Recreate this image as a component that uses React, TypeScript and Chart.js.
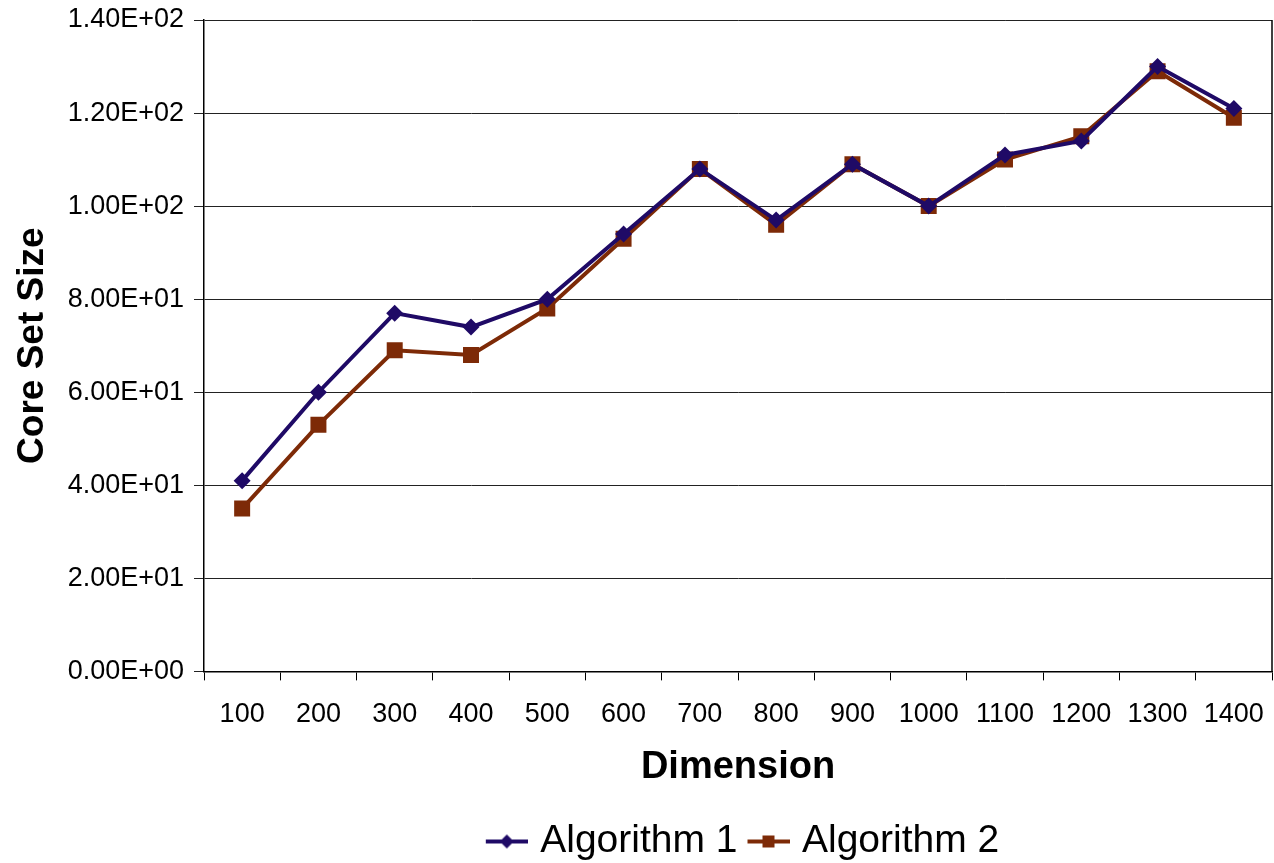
import React, { useEffect, useRef } from "react";
import { Chart, registerables } from "chart.js";

Chart.register(...registerables);

const categories = ["100", "200", "300", "400", "500", "600", "700", "800", "900", "1000", "1100", "1200", "1300", "1400"];
const algorithm1 = [41, 60, 77, 74, 80, 94, 108, 97, 109, 100, 111, 114, 130, 121];
const algorithm2 = [35, 53, 69, 68, 78, 93, 108, 96, 109, 100, 110, 115, 129, 119];
const seriesNames = ["Algorithm 1", "Algorithm 2"];
const yMin = 0;
const yMax = 140;
const yStep = 20;

const COLOR1 = "#1f0a66";
const COLOR2 = "#7d2a07";
const FONT = "'Liberation Sans', Arial, Helvetica, sans-serif";

const LEGEND_PADDING = 1;
const LEGEND_BOX = 45 - LEGEND_PADDING;

function formatSci(v: number): string {
  const [m, e] = v.toExponential(2).split("e");
  const sign = e[0] === "-" ? "-" : "+";
  const digits = e.replace(/^[+-]/, "").padStart(2, "0");
  return `${m}E${sign}${digits}`;
}

function makeLegendIcon(color: string, shape: "diamond" | "square"): HTMLCanvasElement {
  const c = document.createElement("canvas");
  const w = LEGEND_BOX + 14;
  c.width = w;
  c.height = 16;
  const x0 = w - 42;
  const ctx = c.getContext("2d")!;
  ctx.strokeStyle = color;
  ctx.lineWidth = 4;
  ctx.beginPath();
  ctx.moveTo(x0, 8);
  ctx.lineTo(x0 + 42, 8);
  ctx.stroke();
  ctx.fillStyle = color;
  ctx.beginPath();
  if (shape === "diamond") {
    ctx.moveTo(x0 + 21, 1);
    ctx.lineTo(x0 + 28, 8);
    ctx.lineTo(x0 + 21, 15);
    ctx.lineTo(x0 + 14, 8);
    ctx.closePath();
  } else {
    ctx.rect(x0 + 15, 2, 12, 12);
  }
  ctx.fill();
  return c;
}

const rightBorder = {
  id: "rightBorder",
  afterDraw(chart: any) {
    const { ctx, chartArea } = chart;
    ctx.save();
    ctx.strokeStyle = "#000";
    ctx.lineWidth = 1.5;
    ctx.beginPath();
    ctx.moveTo(chartArea.right, chartArea.top);
    ctx.lineTo(chartArea.right, chartArea.bottom);
    ctx.stroke();
    ctx.restore();
  },
};

export default function App() {
  const ref = useRef<HTMLCanvasElement | null>(null);

  useEffect(() => {
    if (!ref.current) return;
    const icons = [makeLegendIcon(COLOR1, "diamond"), makeLegendIcon(COLOR2, "square")];
    const chart = new Chart(ref.current, {
      type: "line",
      data: {
        labels: categories,
        datasets: [
          {
            label: seriesNames[0],
            data: algorithm1,
            borderColor: COLOR1,
            backgroundColor: COLOR1,
            borderWidth: 4,
            pointStyle: "rectRot",
            pointRadius: 8.5,
            pointBorderWidth: 0,
            tension: 0,
          },
          {
            label: seriesNames[1],
            data: algorithm2,
            borderColor: COLOR2,
            backgroundColor: COLOR2,
            borderWidth: 4,
            pointStyle: "rect",
            pointRadius: 11.3,
            pointBorderWidth: 0,
            tension: 0,
          },
        ],
      },
      options: {
        animation: false,
        responsive: true,
        maintainAspectRatio: false,
        layout: { autoPadding: false, padding: { top: 20, right: 2, left: 0, bottom: -8 } },
        font: { family: FONT },
        scales: {
          x: {
            offset: true,
            grid: {
              offset: true,
              drawOnChartArea: false,
              drawTicks: true,
              tickLength: 9,
              color: "#000",
              lineWidth: 1,
            },
            border: { color: "#000", width: 1.5 },
            ticks: {
              color: "#000",
              font: { family: FONT, size: 27 },
              padding: 17.5,
              maxRotation: 0,
              autoSkip: false,
            },
            title: {
              display: true,
              text: "Dimension",
              color: "#000",
              font: { family: FONT, size: 38, weight: "bold" },
              padding: { top: 0, bottom: 30.8 },
            },
            afterFit: (scale: any) => {
              scale.height = 149.6;
              scale.paddingLeft = 0;
              scale.paddingRight = 0;
            },
          },
          y: {
            min: yMin,
            max: yMax,
            grid: {
              color: "#222",
              lineWidth: 1,
              tickLength: 10,
            },
            border: { color: "#000", width: 1.5 },
            ticks: {
              stepSize: yStep,
              color: "#000",
              font: { family: FONT, size: 27 },
              padding: 10,
              callback: (v: any) => formatSci(Number(v)),
            },
            title: {
              display: true,
              text: "Core Set Size",
              color: "#000",
              font: { family: FONT, size: 37, weight: "bold" },
              padding: { top: 11, bottom: 0 },
            },
            afterFit: (scale: any) => {
              scale.width = 204;
              scale.paddingTop = 0;
              scale.paddingBottom = 0;
            },
          },
        },
        plugins: {
          legend: {
            position: "bottom",
            fullSize: false,
            labels: {
              color: "#000",
              font: { family: FONT, size: 39, lineHeight: 1.0 },
              usePointStyle: true,
              pointStyleWidth: LEGEND_BOX,
              padding: LEGEND_PADDING,
              generateLabels: (ch: any) =>
                Chart.defaults.plugins.legend.labels
                  .generateLabels(ch)
                  .map((l: any, i: number) => ({ ...l, pointStyle: icons[i] })),
            },
          },
          tooltip: { enabled: false },
        },
      },
      plugins: [rightBorder],
    } as any);
    return () => chart.destroy();
  }, []);

  return (
    <div style={{ position: "fixed", left: 0, top: 0, width: 1274, height: 863, background: "#fff" }}>
      <canvas ref={ref} />
    </div>
  );
}
